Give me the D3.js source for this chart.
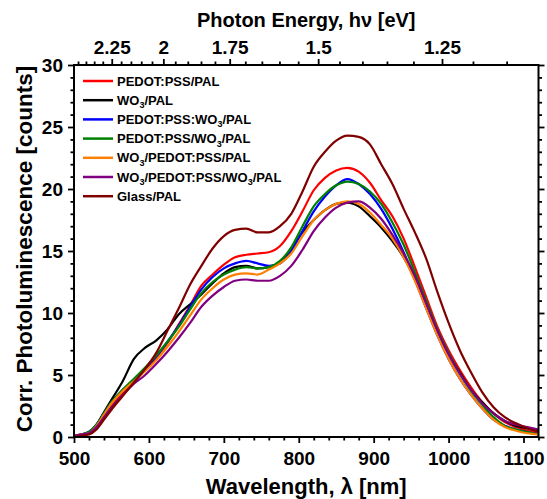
<!DOCTYPE html>
<html>
<head>
<meta charset="utf-8">
<script src="https://cdn.jsdelivr.net/npm/d3@7"></script>
<style>
body { margin: 0; background: #fff; }
text { font-family: "Liberation Sans", Arial, sans-serif; font-weight: bold; }
</style>
</head>
<body>
<div id="chart"></div>
<script>
// wavelength grid (nm) and photoluminescence counts
var wavelength = [500,510,520,530,540,550,565,580,595,610,625,640,655,670,685,700,715,730,745,760,775,790,805,820,835,850,865,880,895,910,925,940,955,970,985,1000,1015,1030,1045,1060,1075,1090,1105,1120];

var pedotPal = [0.1,0.2,0.3,0.8,1.6,2.5, 3.6,4.5,5.4,6.4,7.6,9.1,10.6,12.2,13.1,13.9, 14.5,14.7,14.8,14.9,15.4,16.6,18.2,19.9,20.9,21.5, 21.7,21.4,20.5,19.1,17.8,16.0,13.7,11.3,8.9,7.0, 5.4,4.0,2.8,1.9,1.2,0.8,0.5,0.3];
var wo3Pal = [0.1,0.2,0.4,1.0,2.0,3.0, 4.5,6.3,7.2,7.8,8.7,9.9,10.7,11.5,12.4,13.2, 13.7,13.8,13.6,13.7,14.1,15.2,16.5,17.5,18.3,18.8, 18.9,18.6,17.8,16.9,15.8,14.5,12.8,10.6,8.5,6.7, 5.2,3.8,2.8,1.9,1.3,0.9,0.7,0.5];
var pedotMixWo3Pal = [0.1,0.2,0.4,1.0,1.9,2.8, 3.8,4.6,5.5,6.5,7.7,9.0,10.5,11.9,12.9,13.6, 14.0,14.2,14.0,13.8,14.0,15.0,16.6,18.2,19.4,20.3, 20.8,20.4,19.6,18.4,16.8,14.9,12.7,10.4,8.2,6.3, 4.7,3.4,2.3,1.4,0.9,0.6,0.4,0.2];
var pedotWo3Pal = [0.1,0.2,0.4,1.0,1.9,2.8, 3.8,4.7,5.6,6.6,7.7,8.9,10.3,11.6,12.5,13.1, 13.5,13.7,13.6,13.7,14.2,15.3,17.0,18.6,19.6,20.3, 20.6,20.4,19.8,18.8,17.3,15.5,13.3,11.0,8.7,6.8, 5.1,3.7,2.6,1.6,0.9,0.6,0.4,0.2];
var wo3PedotPal = [0.1,0.2,0.3,0.9,1.8,2.7, 3.7,4.5,5.3,6.2,7.3,8.5,9.8,11.1,12.0,12.7, 13.1,13.2,13.1,13.5,14.0,14.8,16.2,17.5,18.3,18.8, 19.0,18.8,18.1,17.1,16.0,14.5,12.6,10.4,8.2,6.3, 4.7,3.4,2.3,1.4,0.8,0.5,0.3,0.2];
var wo3PedotWo3Pal = [0.1,0.2,0.3,0.8,1.6,2.4, 3.4,4.3,5.0,5.9,6.9,8.0,9.2,10.5,11.4,12.1, 12.6,12.7,12.6,12.6,13.0,13.8,15.1,16.6,17.7,18.5, 18.9,19.0,18.5,17.6,16.3,14.8,13.0,10.8,8.6,6.7, 5.1,3.8,2.7,1.9,1.3,1.0,0.8,0.6];
var glassPal = [0.0,0.1,0.2,0.6,1.4,2.2, 3.3,4.4,5.5,6.8,8.6,10.4,12.3,13.8,15.2,16.2, 16.7,16.8,16.5,16.5,17.0,18.0,19.8,21.8,23.0,23.9, 24.3,24.2,23.6,22.0,20.4,18.4,16.5,14.4,11.7,9.2, 7.0,5.2,3.6,2.4,1.6,1.1,0.7,0.4];

var seriesNames = ["PEDOT:PSS/PAL", "WO3/PAL", "PEDOT:PSS:WO3/PAL", "PEDOT:PSS/WO3/PAL",
                   "WO3/PEDOT:PSS/PAL", "WO3/PEDOT:PSS/WO3/PAL", "Glass/PAL"];
var seriesValues = [pedotPal, wo3Pal, pedotMixWo3Pal, pedotWo3Pal, wo3PedotPal, wo3PedotWo3Pal, glassPal];
var seriesColors = ["#ff0000", "#000000", "#0000ff", "#008000", "#ff8000", "#800080", "#800000"];

var wavelengthTicks = [500, 600, 700, 800, 900, 1000, 1100];
var energyTicks = [2.25, 2, 1.75, 1.5, 1.25];
var countTicks = [0, 5, 10, 15, 20, 25, 30];

var W = 547, H = 499;
var margin = { top: 65, right: 8.5, bottom: 62, left: 74 },
    width = W - margin.left - margin.right,
    height = H - margin.top - margin.bottom;

var svg = d3.select("#chart").append("svg")
    .attr("width", W)
    .attr("height", H);
var g = svg.append("g")
    .attr("transform", "translate(" + margin.left + "," + margin.top + ")");

var x = d3.scaleLinear().domain([500, 1120]).range([0, width]);
var y = d3.scaleLinear().domain([0, 30]).range([height, 0]);

// clip the curves to the frame
g.append("clipPath").attr("id", "clip")
    .append("rect").attr("width", width).attr("height", height);

var line = d3.line()
    .x(function (d) { return x(d[0]); })
    .y(function (d) { return y(d[1]); })
    .curve(d3.curveMonotoneX);

seriesValues.forEach(function (vals, i) {
    g.append("path")
        .datum(wavelength.map(function (w, j) { return [w, vals[j]]; }))
        .attr("clip-path", "url(#clip)")
        .attr("fill", "none")
        .attr("stroke", seriesColors[i])
        .attr("stroke-width", 2.2)
        .attr("stroke-linejoin", "round")
        .attr("d", line);
});

function styleAxis(sel) {
    sel.select(".domain").remove();
    sel.selectAll("line").attr("stroke", "#000").attr("stroke-width", 1.8);
    sel.selectAll("text").style("font-size", "19px").attr("fill", "#000");
}

function minors(step, lo, hi, majors) {
    return d3.range(lo, hi + 0.001, step).filter(function (v) {
        return majors.indexOf(Math.round(v * 1000) / 1000) < 0;
    });
}

// bottom axis
g.append("g").attr("transform", "translate(0," + height + ")")
    .call(d3.axisBottom(x).tickValues(wavelengthTicks).tickSize(6).tickPadding(9).tickFormat(d3.format("d")))
    .call(styleAxis);
g.append("g").attr("transform", "translate(0," + height + ")")
    .call(d3.axisBottom(x).tickValues(minors(20, 500, 1120, wavelengthTicks)).tickSize(3.5).tickFormat(""))
    .call(styleAxis);

// left axis
g.append("g")
    .call(d3.axisLeft(y).tickValues(countTicks).tickSize(6).tickPadding(5))
    .call(styleAxis);
g.append("g")
    .call(d3.axisLeft(y).tickValues(minors(1, 0, 30, countTicks)).tickSize(3.5).tickFormat(""))
    .call(styleAxis);

// right axis
g.append("g").attr("transform", "translate(" + width + ",0)")
    .call(d3.axisRight(y).tickValues(countTicks).tickSize(6).tickFormat(""))
    .call(styleAxis);
g.append("g").attr("transform", "translate(" + width + ",0)")
    .call(d3.axisRight(y).tickValues(minors(1, 0, 30, countTicks)).tickSize(3.5).tickFormat(""))
    .call(styleAxis);

// top axis: photon energy, E = 1239.84 / lambda
var hc = 1239.84;
var energyMinor = d3.range(1.15, 2.451, 0.05).map(function (v) { return Math.round(v * 100) / 100; })
    .filter(function (v) { return energyTicks.indexOf(v) < 0; });
var topAx = g.append("g");
topAx.selectAll(".emaj").data(energyTicks).enter().append("line")
    .attr("x1", function (d) { return x(hc / d); }).attr("x2", function (d) { return x(hc / d); })
    .attr("y1", 0).attr("y2", -6);
topAx.selectAll(".emin").data(energyMinor).enter().append("line")
    .attr("x1", function (d) { return x(hc / d); }).attr("x2", function (d) { return x(hc / d); })
    .attr("y1", 0).attr("y2", -3.5);
topAx.selectAll("line").attr("stroke", "#000").attr("stroke-width", 1.8);
topAx.selectAll("text").data(energyTicks).enter().append("text")
    .attr("x", function (d) { return x(hc / d); })
    .attr("y", -11)
    .attr("text-anchor", "middle")
    .style("font-size", "19px")
    .text(function (d) { return String(d); });

// frame
g.append("rect")
    .attr("width", width).attr("height", height)
    .attr("fill", "none").attr("stroke", "#000").attr("stroke-width", 2);

// axis titles
svg.append("text")
    .attr("x", margin.left + width / 2).attr("y", 494)
    .attr("text-anchor", "middle").style("font-size", "22px")
    .text("Wavelength, \u03bb [nm]");

svg.append("text")
    .attr("x", margin.left + width / 2).attr("y", 27)
    .attr("text-anchor", "middle").style("font-size", "20px")
    .text("Photon Energy, h\u03bd [eV]");

svg.append("text")
    .attr("transform", "translate(32," + (margin.top + height / 2 - 2) + ")rotate(-90)")
    .attr("text-anchor", "middle").style("font-size", "22.5px")
    .text("Corr. Photoluminescence [counts]");

// legend
var legend = g.append("g").attr("transform", "translate(9,16)");
seriesNames.forEach(function (name, i) {
    var row = legend.append("g").attr("transform", "translate(0," + (i * 19.2) + ")");
    row.append("line")
        .attr("x1", 0).attr("x2", 30)
        .attr("stroke", seriesColors[i]).attr("stroke-width", 2.5);
    var t = row.append("text").attr("x", 34).attr("y", 4.6).style("font-size", "13px");
    var parts = name.split("3");
    parts.forEach(function (p, k) {
        t.append("tspan").attr("dy", k > 0 ? -3.5 : 0).text(p);
        if (k < parts.length - 1) {
            t.append("tspan").attr("dy", 3.5).style("font-size", "9px").text("3");
        }
    });
});
</script>
</body>
</html>
